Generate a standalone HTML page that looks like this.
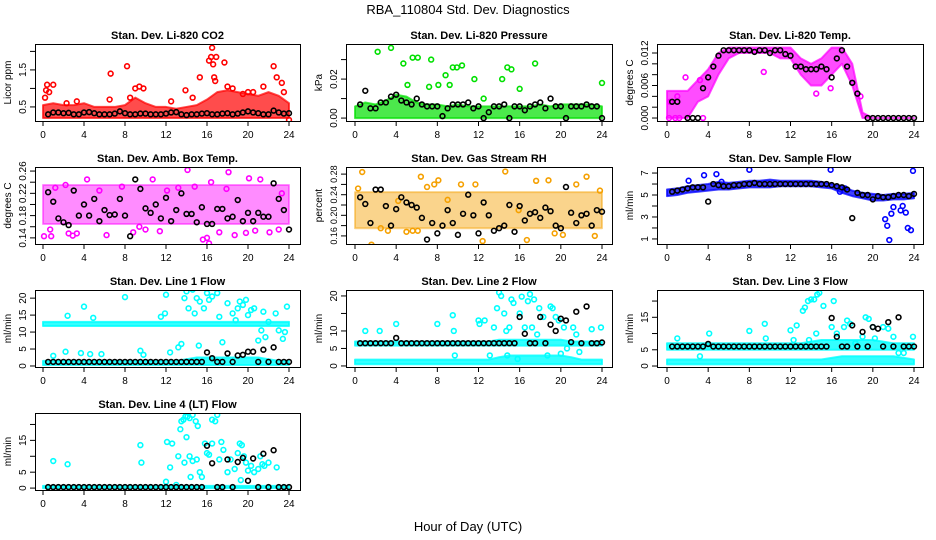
<!DOCTYPE html>
<html><head><meta charset="utf-8">
<style>
body{margin:0;background:#fff;}
svg{display:block;font-family:"Liberation Sans",Arial,sans-serif;}
</style></head>
<body>
<svg id="chart" width="936" height="540" viewBox="0 0 936 540" xmlns="http://www.w3.org/2000/svg">
<text x="468" y="14" text-anchor="middle" font-size="13">RBA_110804  Std. Dev. Diagnostics</text>
<text x="468" y="531" text-anchor="middle" font-size="13">Hour of Day (UTC)</text>
</svg>
<script>
// ---- data ----
const hourTicks = [0,4,8,12,16,20,24];
const bandHours = [0,1,2,3,4,5,6,7,8,9,10,11,12,13,14,15,16,17,18,19,20,21,22,23,24];

const co2Lo = [0.2,0.2,0.2,0.2,0.2,0.2,0.2,0.2,0.2,0.2,0.2,0.2,0.2,0.2,0.2,0.2,0.2,0.2,0.2,0.2,0.2,0.2,0.2,0.2,0.2];
const co2Hi = [0.55,0.6,0.55,0.55,0.6,0.5,0.5,0.5,0.55,0.75,0.6,0.5,0.5,0.45,0.5,0.55,0.7,0.9,0.95,0.9,0.85,0.8,0.9,0.8,0.6];
const co2Out = [[0.3,0.95],[0.4,1.1],[0.6,0.9],[1.0,1.1],[0.2,0.75],[6.6,1.4],[6.5,0.7],[8.2,1.6],[9,1.0],[9.4,1.05],[9.8,1.0],[8.5,0.75],[13.9,0.95],[15.3,1.3],[16.2,1.75],[16.4,1.85],[16.5,2.1],[16.6,1.65],[16.7,1.3],[16.8,1.2],[16.9,1.85],[17.7,1.7],[18.0,1.05],[18.5,1.0],[20,0.9],[21.5,1.05],[22.5,1.6],[22.8,1.3],[23.3,1.15],[23.5,0.9],[24,0.15],[3.3,0.65],[2.3,0.6],[12.5,0.65],[14.6,0.75],[19.5,0.85],[20.5,0.9]];
const co2Black = [0.3,0.35,0.35,0.33,0.34,0.3,0.3,0.35,0.36,0.33,0.3,0.3,0.3,0.32,0.38,0.33,0.3,0.3,0.32,0.32,0.3,0.3,0.3,0.32,0.35,0.36,0.3,0.28,0.3,0.3,0.32,0.33,0.3,0.3,0.32,0.33,0.3,0.32,0.35,0.38,0.35,0.33,0.3,0.3,0.4,0.35,0.32,0.33];

const presLo = [0,0,0,0,0,0,0,0,0,0,0,0,0,0,0,0,0,0,0,0,0,0,0,0,0];
const presHi = [0.006,0.008,0.007,0.009,0.012,0.011,0.008,0.007,0.007,0.006,0.007,0.006,0.006,0.006,0.006,0.006,0.006,0.006,0.007,0.006,0.007,0.007,0.007,0.007,0.006];
const presOut = [[2.2,0.034],[3.5,0.036],[4.7,0.028],[5.6,0.031],[6.1,0.031],[7.2,0.016],[7.4,0.030],[8.1,0.017],[8.8,0.022],[9.2,0.017],[9.5,0.026],[9.9,0.026],[10.4,0.027],[11.6,0.020],[12.5,0.010],[14.3,0.020],[14.8,0.026],[15.2,0.025],[16.0,0.015],[17.5,0.028],[24,0.018],[5.1,0.017]];
const presBlack = [0.007,0.014,0.005,0.005,0.008,0.008,0.011,0.012,0.009,0.008,0.007,0.010,0.007,0.006,0.006,0.006,0.001,0.005,0.007,0.007,0.007,0.008,0.005,0.006,0.0,0.003,0.006,0.006,0.007,0.0,0.006,0.006,0.004,0.006,0.007,0.008,0.005,0.010,0.006,0.006,0.0,0.006,0.006,0.006,0.007,0.006,0.006,0.0];

const tempLo = [0,0,0,0.003,0.004,0.008,0.011,0.012,0.012,0.012,0.012,0.011,0.011,0.008,0.006,0.006,0.008,0.010,0.006,0,0,0,0,0,0];
const tempHi = [0.005,0.005,0.005,0.007,0.009,0.012,0.013,0.013,0.013,0.013,0.013,0.013,0.013,0.011,0.010,0.011,0.013,0.013,0.010,0.001,0,0,0,0,0];
const tempOut = [[3.2,0.007],[1.8,0.0075],[9.4,0.0085],[14.5,0.0045],[15.9,0.0055],[18.8,0.004],[0.2,0],[0.8,0],[1.2,0],[3.5,0],[0.3,0.003],[1.0,0.004]];
const tempBlack = [0.003,0.003,null,0,0,0,0.0055,0.0075,0.0095,0.0115,0.0125,0.0125,0.0125,0.0125,0.0125,0.0125,0.0122,0.0125,0.0125,0.012,0.0125,0.0125,0.0118,0.0115,0.0095,0.0095,0.009,0.009,0.009,0.0095,0.009,0.0075,0.011,0.0125,0.0095,0.0065,0.0045,null,0,0,0,0,0,0,0,0,0,0];

const ambLo = [0.165,0.165,0.165,0.165,0.165,0.165,0.165,0.165,0.165,0.165,0.165,0.165,0.165,0.165,0.165,0.165,0.165,0.165,0.165,0.165,0.165,0.165,0.165,0.165,0.165];
const ambHi = [0.235,0.235,0.235,0.235,0.235,0.235,0.235,0.235,0.235,0.235,0.235,0.235,0.235,0.235,0.235,0.235,0.235,0.235,0.235,0.235,0.235,0.235,0.235,0.235,0.235];
const ambOut = [[0.1,0.143],[0.8,0.143],[1.2,0.23],[2.2,0.235],[2.5,0.148],[2.9,0.144],[3.3,0.148],[4.3,0.245],[5.5,0.225],[6.2,0.145],[7.7,0.232],[8.8,0.15],[9.4,0.16],[10,0.155],[10.7,0.245],[11.4,0.152],[12.1,0.225],[13.2,0.23],[14.1,0.262],[14.8,0.232],[15.6,0.137],[16,0.14],[16.4,0.24],[16.2,0.13],[17.2,0.15],[17.9,0.228],[18.1,0.258],[18.7,0.145],[19.8,0.149],[20.1,0.247],[20.7,0.153],[21.2,0.245],[22.1,0.15],[23,0.155],[23.3,0.22],[0.7,0.155]];
const ambBlack = [0.222,0.205,0.175,0.168,0.163,0.225,0.180,0.200,0.180,0.210,0.170,0.190,0.181,0.182,0.210,0.180,0.143,0.245,0.228,0.193,0.185,0.200,0.175,0.212,0.170,0.190,0.220,0.183,0.183,0.168,0.195,0.165,0.165,0.192,0.192,0.175,0.178,0.208,0.170,0.185,0.170,0.185,0.178,0.178,0.238,0.210,0.190,0.155];

const rhLo = [0.175,0.175,0.175,0.175,0.175,0.175,0.175,0.175,0.175,0.175,0.175,0.175,0.175,0.175,0.175,0.175,0.175,0.175,0.175,0.175,0.175,0.175,0.175,0.175,0.175];
const rhHi = [0.245,0.245,0.245,0.245,0.245,0.245,0.245,0.245,0.245,0.245,0.245,0.245,0.245,0.245,0.245,0.245,0.245,0.245,0.245,0.245,0.245,0.245,0.245,0.245,0.245];
const rhOut = [[0.7,0.284],[0.3,0.252],[1.6,0.143],[2.5,0.175],[3.2,0.17],[4.2,0.228],[5.0,0.168],[5.6,0.17],[6.1,0.17],[6.4,0.275],[7,0.255],[7.7,0.26],[8.1,0.268],[9,0.23],[10.3,0.26],[11.7,0.26],[12.4,0.15],[14.6,0.285],[15.9,0.21],[16.7,0.152],[17.6,0.267],[18.8,0.268],[19.4,0.165],[20.2,0.162],[21.5,0.26],[22.5,0.275],[23.3,0.16],[23.8,0.248]];
const rhBlack = [0.235,0.222,0.185,0.25,0.25,0.218,0.18,0.212,0.235,0.225,0.22,0.215,0.195,0.153,0.185,0.165,0.180,0.210,0.185,0.162,0.203,0.240,0.200,0.165,0.225,0.200,0.170,0.175,0.180,0.220,0.168,0.218,0.190,0.203,0.206,0.195,0.215,0.208,0.180,0.175,0.255,0.205,0.185,0.200,0.203,0.180,0.210,0.207];

const sfLo = [4.9,5.0,5.2,5.3,5.4,5.5,5.5,5.6,5.7,5.7,5.7,5.8,5.8,5.8,5.8,5.7,5.6,5.2,4.9,4.7,4.5,4.5,4.6,4.6,4.7];
const sfHi = [5.5,5.6,5.8,5.9,6.0,6.2,6.1,6.2,6.3,6.3,6.4,6.3,6.3,6.3,6.3,6.2,6.0,5.8,5.4,5.2,5.1,5.0,5.1,5.1,5.2];
const sfOut = [[2.1,6.3],[3.6,6.8],[4.8,6.9],[5.3,6.2],[8,7.3],[15.9,7.3],[23.9,7.2],[21.2,2.8],[21.4,2.2],[21.6,0.9],[21.8,3.3],[22,3.9],[22.7,3.6],[22.9,4.0],[23.2,3.4],[23.4,2.0],[23.7,1.8],[16.8,5.3],[17.3,5.6]];
const sfBlack = [5.3,5.4,5.5,5.6,5.7,5.7,5.7,4.4,6.0,5.9,5.8,5.8,5.9,5.9,6.0,6.0,6.1,6.0,6.0,6.0,6.0,6.0,6.0,6.0,6.0,6.0,6.0,6.0,6.0,6.0,6.0,5.9,5.8,5.7,5.5,2.9,5.2,5.0,5.0,4.6,4.9,4.8,4.8,4.9,5.0,5.0,4.9,5.1];

const l1aLo = [11.8,11.8,11.8,11.8,11.8,11.8,11.8,11.8,11.8,11.8,11.8,11.8,11.8,11.8,11.8,11.8,11.8,11.8,11.8,11.8,11.8,11.8,11.8,11.8,11.8];
const l1aHi = [13,13,13,13,13,13,13,13,13,13,13,13,13,13,13,13,13,13,13,13,13,13,13,13,13];
const l1bLo = [0.3,0.3,0.3,0.3,0.3,0.3,0.3,0.3,0.3,0.3,0.3,0.3,0.3,0.3,0.3,0.3,0.3,0.3,0.3,0.3,0.3,0.3,0.3,0.3,0.3];
const l1bHi = [1.5,1.5,1.5,1.5,1.5,1.5,1.5,1.5,1.5,1.5,1.5,1.5,1.5,1.5,2,2.5,2.5,2.5,2.5,2.5,2.5,2.5,2,1.5,1.5];
const l1Out = [[1,3],[2.2,4.2],[2.4,14.8],[3.7,3.8],[4,17.5],[4.6,3.5],[4.9,14.2],[5.7,3.5],[8,20.3],[9.5,4.5],[9.8,3.3],[11.5,14.5],[11.9,15.5],[12,21],[12.4,4],[13.2,5.5],[13.5,6.5],[13.8,20],[14,22],[14.2,17],[14.6,22.5],[14.8,15.5],[15,20],[15.3,19],[15.7,17],[15.2,6],[16,21.5],[16.2,19.5],[16.5,20.5],[17,21.5],[17.2,14.5],[17.5,7],[18,18.5],[18.5,15.5],[18.8,13.5],[19,17],[19.2,19],[19.5,18],[19.8,19.5],[20,15],[20.3,16.5],[20.6,17],[21,7.5],[21.3,10.5],[21.5,16],[21.7,8.5],[22,13],[22.7,15.5],[23,10.5],[23.4,8],[23.8,17.5],[23.6,10]];
const l1Black = [1.2,1.2,1.2,1.2,1.2,1.2,1.2,1.2,1.2,1.2,1.2,1.2,1.2,1.2,1.2,1.2,1.2,1.2,1.2,1.2,1.2,1.2,1.2,1.2,1.2,1.2,1.2,1.2,1.2,1.2,1.2,4.0,2.3,1.2,1.2,3.7,1.2,3.1,3.3,4.2,4.2,1.2,4.8,1.2,5.5,1.2,1.2,1.2];

const l2aLo = [5.8,5.8,5.8,5.8,5.8,5.8,5.8,5.8,5.8,5.8,5.8,5.8,5.8,5.8,5.8,5.8,5.8,5.8,5.8,5.8,5.8,5.8,5.8,5.8,5.8];
const l2aHi = [7,7,7,7,7,7,7,7,7,7,7,7,7,7,7.5,7.5,7.5,7.5,7.5,7.5,7.5,7,7,7,7];
const l2bLo = [0.5,0.5,0.5,0.5,0.5,0.5,0.5,0.5,0.5,0.5,0.5,0.5,0.5,0.5,0.5,0.5,0.5,0.5,0.5,0.5,0.5,0.5,0.5,0.5,0.5];
const l2bHi = [1.8,1.8,1.8,1.8,1.8,1.8,1.8,1.8,1.8,1.8,1.8,1.8,1.8,1.8,2.5,3,3,3,3,3,3,2.5,1.8,1.8,1.8];
const l2Out = [[1,10],[2.4,10],[4,12],[8,12],[9.5,14.5],[9.6,10],[9.7,3],[12,13],[12.1,12],[12.6,13],[13.5,11],[13.8,16.5],[14,21],[14.2,20],[14.5,15],[14.7,10],[15,11],[15.2,19],[15.4,18],[16,15],[16.2,19.8],[16.5,11],[16.8,18.5],[17,20.5],[17.4,19],[17.2,11],[17.7,9],[17.9,16.5],[18.3,14],[18.7,3],[19,17],[19.2,16.5],[19.5,14],[19.8,13],[20,3.5],[20.3,11],[20.6,5],[21.2,11],[21.5,9],[21.8,4],[23,10.5],[23.9,11],[14.8,3],[15.8,2],[13.1,3]];
const l2Black = [6.5,6.5,6.5,6.5,6.5,6.5,6.5,8,6.5,6.5,6.5,6.5,6.5,6.5,6.5,6.5,6.5,6.5,6.5,6.5,6.5,6.5,6.5,6.5,6.5,6.5,6.5,6.5,6.5,6.5,6.5,14,9.2,6.5,6.5,14,6.5,11.8,10,13.5,13,6.8,15.5,6.5,17,6.5,6.5,6.7];

const l3aLo = [5,5,5,5,5,5,5,5,5,5,5,5,5,5,5,5,5,5,5,5,5,5,5,5,5];
const l3aHi = [7,7,7,7,7,7,7,7,7,7,7,7,7,7,7.5,8,8,8,8,8,8,7.5,7,7,7];
const l3bLo = [0.5,0.5,0.5,0.5,0.5,0.5,0.5,0.5,0.5,0.5,0.5,0.5,0.5,0.5,0.5,0.5,0.5,0.5,0.5,0.5,0.5,0.5,0.5,0.5,0.5];
const l3bHi = [2,2,2,2,2,2,2,2,2,2,2,2,2,2,2,2,2.5,3,3,3,3,3,3,2.5,2];
const l3Out = [[1,8.5],[3.2,3],[4.1,10],[8,10.8],[9.5,13],[9.6,8.5],[12,11],[12.3,8],[12.6,12.5],[13.2,17],[13.4,18],[13.7,20],[14,20.5],[14.3,20.5],[14.8,22.5],[14.6,22],[15.2,18.5],[16.2,20],[16,12],[16.5,10],[17.2,12],[17.5,14],[17.8,13],[18.3,7],[19,9],[19.3,15],[19.6,14.5],[20,12],[20.2,8.5],[21,12],[21.5,11.5],[22,9],[14.5,10],[13.8,8],[23.9,9],[22.5,4],[23,4]];
const l3Black = [6,6,6,6,6,6,6,6.8,6,6,6,6,6,6,6,6,6,6,6,6,6,6,6,6,6,6,6,6,6,6,6,14.8,9,6,6,12.5,6,10.5,6,12,11.5,6,13.5,6,15,6,6,6];

const l4Lo = [0,0,0,0,0,0,0,0,0,0,0,0,0,0,0,0,0,0,0,0,0,0,0,0,0];
const l4Hi = [0.7,0.7,0.7,0.7,0.7,0.7,0.7,0.7,0.7,0.7,0.7,0.7,0.7,0.7,0.7,0.7,0.7,0.7,0.7,0.7,0.7,0.7,0.7,0.7,0.7];
const l4Out = [[1,8.5],[2.4,7.5],[9.5,13.5],[9.6,8],[12,2],[12.1,14.5],[12.4,6.5],[12.6,14],[13.2,10],[13.4,18.5],[13.5,21],[13.7,21.5],[13.9,22.5],[14.1,22.5],[14.3,22],[14.6,23],[14.9,21],[15.1,19.5],[14,16],[13.8,8],[14.3,10],[14.6,8.5],[15,9],[15.3,5],[15.5,3.5],[15.8,14],[16,11],[16.2,10.5],[16.5,14],[16.8,21],[16.5,21.5],[17,23],[17.2,9],[17.4,14.5],[17.6,12],[18,5],[18.3,9],[18.7,6],[19,11],[19.2,14],[19.4,13.5],[19.6,10],[19.8,8],[20,5.5],[20.3,7],[20.6,5],[21,6],[21.2,10],[21.4,7.5],[21.6,7],[22,8],[22.8,6.5],[19.3,2.5],[14.4,3.5],[13,1]];
const l4Black = [0.3,0.3,0.3,0.3,0.3,0.3,0.3,0.3,0.3,0.3,0.3,0.3,0.3,0.3,0.3,0.3,0.3,0.3,0.3,0.3,0.3,0.3,0.3,0.3,0.3,0.3,0.3,0.3,0.3,0.3,0.3,13.3,7.8,0.3,0.3,9,0.3,8.2,9.5,2.3,9.3,0.3,10.8,0.3,11.9,0.3,0.3,0.3];

// ---- layout ----
const cols = [{l:35,r:300,x0:43,x24:289},{l:346,r:612,x0:355,x24:602},{l:657,r:923,x0:667,x24:914}];
const rowTop = [44,167,290,413];
const boxH = 77;

const panels = [
 {name:'co2',title:'Stan. Dev. Li-820 CO2',ylab:'Licor ppm',c:0,r:0,ylim:[0.12,2.2],ticks:[0.5,1,1.5,2],labels:['0.5','','1.5',''],color:'#ff0000',op:0.7,fs:10,bands:[[co2Lo,co2Hi]],out:co2Out,black:co2Black},
 {name:'pressure',title:'Stan. Dev. Li-820 Pressure',ylab:'kPa',c:1,r:0,ylim:[-0.0015,0.038],ticks:[0,0.01,0.02,0.03],labels:['0.00','','0.02',''],color:'#00e000',op:0.7,fs:10,bands:[[presLo,presHi]],out:presOut,black:presBlack},
 {name:'temp',title:'Stan. Dev. Li-820 Temp.',ylab:'degrees C',c:2,r:0,ylim:[-0.00055,0.01366],ticks:[0,0.002,0.004,0.006,0.008,0.010,0.012],labels:['0.000','','','0.006','','','0.012'],color:'#ff00ff',op:0.7,fs:10,bands:[[tempLo,tempHi]],out:tempOut,black:tempBlack},
 {name:'amb-box-temp',title:'Stan. Dev. Amb. Box Temp.',ylab:'degrees C',c:0,r:1,ylim:[0.129,0.2673],ticks:[0.14,0.16,0.18,0.20,0.22,0.24,0.26],labels:['0.14','','0.18','','0.22','','0.26'],color:'#ff00ff',op:0.45,fs:10,bands:[[ambLo,ambHi]],out:ambOut,black:ambBlack},
 {name:'gas-rh',title:'Stan. Dev. Gas Stream RH',ylab:'percent',c:1,r:1,ylim:[0.1443,0.2938],ticks:[0.16,0.18,0.20,0.22,0.24,0.26,0.28],labels:['0.16','','0.20','','0.24','','0.28'],color:'#f5a000',op:0.45,fs:9,bands:[[rhLo,rhHi]],out:rhOut,black:rhBlack},
 {name:'sample-flow',title:'Stan. Dev. Sample Flow',ylab:'ml/min',c:2,r:1,ylim:[0.54,7.55],ticks:[1,2,3,4,5,6,7],labels:['1','','3','','5','','7'],color:'#0000ff',op:0.75,fs:10,bands:[[sfLo,sfHi]],out:sfOut,black:sfBlack},
 {name:'line1-flow',title:'Stan. Dev. Line 1 Flow',ylab:'ml/min',c:0,r:2,ylim:[-0.3,22.4],ticks:[0,5,10,15,20],labels:['0','5','10','15','20'],color:'#00ffff',op:0.8,fs:10,bands:[[l1aLo,l1aHi],[l1bLo,l1bHi]],out:l1Out,black:l1Black},
 {name:'line2-flow',title:'Stan. Dev. Line 2 Flow',ylab:'ml/min',c:1,r:2,ylim:[-0.3,21.7],ticks:[0,5,10,15,20],labels:['0','5','10','','20'],color:'#00ffff',op:0.8,fs:10,bands:[[l2aLo,l2aHi],[l2bLo,l2bHi]],out:l2Out,black:l2Black},
 {name:'line3-flow',title:'Stan. Dev. Line 3 Flow',ylab:'ml/min',c:2,r:2,ylim:[-0.3,23.4],ticks:[0,5,10,15,20],labels:['0','5','','15',''],color:'#00ffff',op:0.8,fs:10,bands:[[l3aLo,l3aHi],[l3bLo,l3bHi]],out:l3Out,black:l3Black},
 {name:'line4-flow',title:'Stan. Dev. Line 4 (LT) Flow',ylab:'ml/min',c:0,r:3,ylim:[-0.6,23.6],ticks:[0,5,10,15,20],labels:['0','5','','15',''],color:'#00ffff',op:0.8,fs:10,bands:[[l4Lo,l4Hi]],out:l4Out,black:l4Black}
];

const svg = document.getElementById('chart');
const NS = 'http://www.w3.org/2000/svg';
function mk(tag, attrs, parent){
  const e = document.createElementNS(NS, tag);
  for (const k in attrs) e.setAttribute(k, attrs[k]);
  parent.appendChild(e);
  return e;
}

panels.forEach(p=>{
  const col = cols[p.c];
  const top = rowTop[p.r], bot = top + boxH;
  const xs = h => col.x0 + (h/24)*(col.x24-col.x0);
  const ys = v => bot - (v - p.ylim[0])/(p.ylim[1]-p.ylim[0])*boxH;
  const g = mk('g', {}, svg);
  
  

  const t = mk('text', {x:(col.l+col.r)/2, y:top-5, 'text-anchor':'middle', 'font-size':'11', 'font-weight':'bold'}, g);
  t.textContent = p.title;
  
  

  const clip = 'clip-' + p.name;
  const cp = mk('clipPath', {id:clip}, g);
  mk('rect', {x:col.l, y:top, width:col.r-col.l, height:boxH}, cp);
  const marks = mk('g', {'clip-path':'url(#'+clip+')'}, g);
  
  

  p.bands.forEach(b=>{
    const lo = b[0], hi = b[1];
    let pts = [];
    bandHours.forEach((h,i)=>pts.push(xs(h)+','+ys(hi[i])));
    for (let i=bandHours.length-1;i>=0;i--) pts.push(xs(bandHours[i])+','+ys(lo[i]));
    const poly = mk('polygon', {points:pts.join(' '), fill:p.color, 'fill-opacity':p.op, stroke:p.color, 'stroke-opacity':p.op, 'stroke-width':'2', 'stroke-linejoin':'round'}, marks);
    
    
  });
  p.out.forEach(o=>{
    const c = mk('circle', {cx:xs(o[0]), cy:ys(o[1]), r:2.4, fill:'none', stroke:p.color, 'stroke-width':'1.6'}, marks);
    
    
  });
  p.black.forEach((v,i)=>{
    if (v===null) return;
    const c = mk('circle', {cx:xs((i+1)*0.5), cy:ys(v), r:2.4, fill:'none', stroke:'#000', 'stroke-width':'1.6'}, marks);
    
    
  });

  const box = mk('rect', {x:col.l+0.5, y:top+0.5, width:col.r-col.l, height:boxH, fill:'none', stroke:'#000', 'stroke-width':'1'}, g);
  
  

  const xa = mk('g', {}, g);
  
  
  mk('line', {x1:xs(0), x2:xs(24), y1:bot+0.5, y2:bot+0.5, stroke:'#000'}, xa);
  hourTicks.forEach(h=>{
    mk('line', {x1:xs(h), x2:xs(h), y1:bot, y2:bot+5, stroke:'#000'}, xa);
    const tl = mk('text', {x:xs(h), y:bot+17, 'text-anchor':'middle', 'font-size':'10'}, xa);
    tl.textContent = h;
    
    
  });
  const ya = mk('g', {}, g);
  
  
  const yt = p.ticks;
  mk('line', {x1:col.l+0.5, x2:col.l+0.5, y1:ys(yt[0]), y2:ys(yt[yt.length-1]), stroke:'#000'}, ya);
  yt.forEach((v,i)=>{
    const y = ys(v);
    mk('line', {x1:col.l-5, x2:col.l, y1:y, y2:y, stroke:'#000'}, ya);
    if (p.labels[i]) {
      const lx = col.l - 9;
      const tl = mk('text', {x:lx, y:y, 'text-anchor':'middle', 'font-size':p.fs, transform:'rotate(-90 '+lx+' '+y+')'}, ya);
      tl.textContent = p.labels[i];
      
      
    }
  });
  const tx = col.l - 24, ty = (top+bot)/2;
  const yl = mk('text', {x:tx, y:ty, 'text-anchor':'middle', 'font-size':'10', transform:'rotate(-90 '+tx+' '+ty+')'}, g);
  yl.textContent = p.ylab;
  
  
});
</script>
</body></html>
